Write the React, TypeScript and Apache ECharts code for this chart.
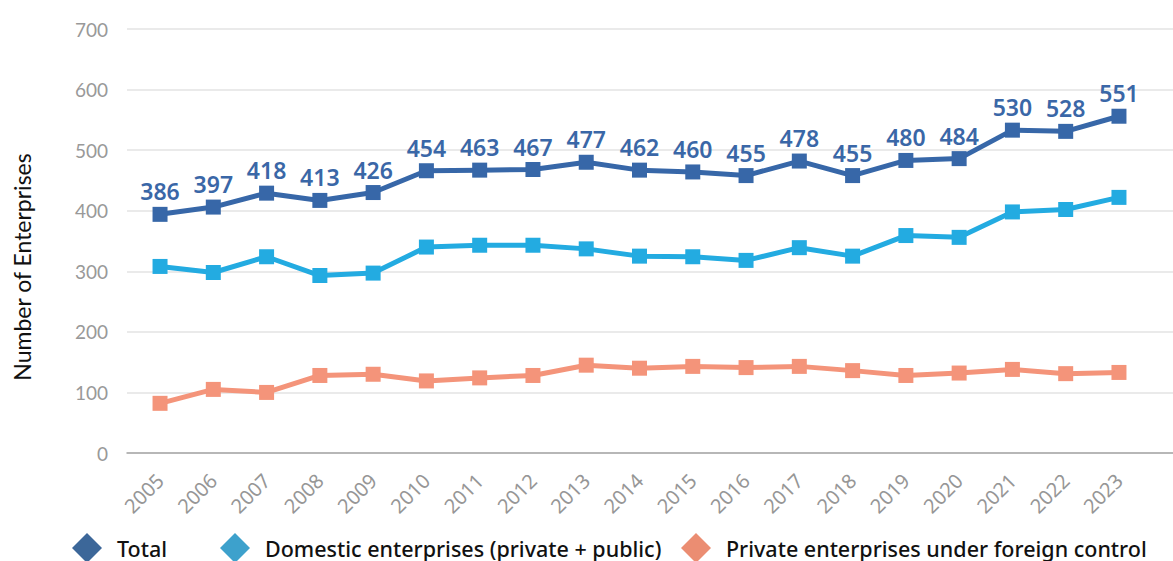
import React, { useEffect, useRef } from "react";
import * as echarts from "echarts";

const years = ["2005","2006","2007","2008","2009","2010","2011","2012","2013","2014","2015","2016","2017","2018","2019","2020","2021","2022","2023"];
const totalValues = [394, 406, 429, 417, 430, 466, 467, 468, 480, 467, 464, 458, 482, 458, 483, 486, 533, 531, 556];
const totalLabels = [386, 397, 418, 413, 426, 454, 463, 467, 477, 462, 460, 455, 478, 455, 480, 484, 530, 528, 551];
const domesticValues = [308, 298, 324, 293, 297, 340, 343, 343, 337, 325, 324, 318, 339, 325, 359, 356, 398, 402, 422];
const foreignValues = [82, 105, 100, 128, 130, 119, 124, 128, 145, 140, 143, 141, 143, 136, 128, 132, 138, 131, 133];
const yTicks = { min: 0, max: 700, interval: 100 };
const seriesNames = ["Total", "Domestic enterprises (private + public)", "Private enterprises under foreign control"];

const lineColors = ["#3767A8", "#23ABE1", "#F4947A"];
const legendColors = ["#3C6799", "#3DA1CC", "#EB8D72"];

export default function App() {
  const ref = useRef<HTMLDivElement>(null);
  useEffect(() => {
    if (!ref.current) return;
    const chart = echarts.init(ref.current, undefined, { renderer: "svg" });
    const legendBase = (i: number, left: number) => ({
      left,
      top: 533,
      padding: 0,
      orient: "horizontal",
      itemWidth: 30,
      itemHeight: 30,
      icon: "diamond",
      selectedMode: false,
      data: [{ name: seriesNames[i], itemStyle: { color: legendColors[i] } }],
      textStyle: {
        fontFamily: "Noto Sans",
        fontSize: 21.5,
        fontWeight: 500,
        color: "#111",
        lineHeight: 24,
        padding: [0, 0, 0, 10],
      },
    });
    chart.setOption({
      animation: false,
      grid: [
        { left: 127, right: 0, top: 29, bottom: 108 },
        { left: 133.4, right: 27.4, top: 29, bottom: 108 },
      ],
      xAxis: [
        {
          gridIndex: 0,
          type: "category",
          data: years,
          axisLine: { show: true, lineStyle: { color: "#A6A6A6", width: 1.5 } },
          axisTick: { show: false },
          axisLabel: { show: false },
          splitLine: { show: false },
        },
        {
          gridIndex: 1,
          type: "category",
          data: years,
          boundaryGap: true,
          axisLine: { show: false },
          axisTick: { show: false },
          axisLabel: {
            rotate: 45,
            margin: 24,
            color: "#969696",
            fontFamily: "Noto Sans",
            fontSize: 20,
            interval: 0,
          },
        },
      ],
      yAxis: [
        {
          gridIndex: 0,
          type: "value",
          min: yTicks.min,
          max: yTicks.max,
          interval: yTicks.interval,
          axisLine: { show: false },
          axisTick: { show: false },
          axisLabel: { color: "#999999", fontFamily: "Lato", fontSize: 19, margin: 19 },
          splitLine: { lineStyle: { color: "#E3E3E3", width: 1.5 } },
        },
        {
          gridIndex: 1,
          type: "value",
          min: yTicks.min,
          max: yTicks.max,
          interval: yTicks.interval,
          show: false,
        },
      ],
      legend: [legendBase(0, 72), legendBase(1, 220), legendBase(2, 681)],
      graphic: [
        {
          type: "text",
          x: 22,
          y: 267,
          rotation: Math.PI / 2,
          style: {
            text: "Number of Enterprises",
            fontFamily: "Lato",
            fontSize: 23,
            fill: "#111",
            align: "center",
            verticalAlign: "middle",
          },
        },
      ],
      series: [
        {
          name: seriesNames[0],
          type: "line",
          xAxisIndex: 1,
          yAxisIndex: 1,
          data: totalValues,
          symbol: "rect",
          symbolSize: 15,
          lineStyle: { color: lineColors[0], width: 5 },
          itemStyle: { color: lineColors[0] },
          label: {
            show: true,
            position: "top",
            distance: 4,
            color: "#3A67A7",
            fontFamily: "Noto Sans",
            fontSize: 23,
            fontWeight: 600,
            formatter: (p: any) => String(totalLabels[p.dataIndex]),
          },
          z: 4,
        },
        {
          name: seriesNames[1],
          type: "line",
          xAxisIndex: 1,
          yAxisIndex: 1,
          data: domesticValues,
          symbol: "rect",
          symbolSize: 15,
          lineStyle: { color: lineColors[1], width: 5 },
          itemStyle: { color: lineColors[1] },
          z: 3,
        },
        {
          name: seriesNames[2],
          type: "line",
          xAxisIndex: 1,
          yAxisIndex: 1,
          data: foreignValues,
          symbol: "rect",
          symbolSize: 15,
          lineStyle: { color: lineColors[2], width: 5 },
          itemStyle: { color: lineColors[2] },
          z: 2,
        },
      ],
    });
    return () => chart.dispose();
  }, []);
  return <div ref={ref} style={{ width: 1173, height: 561, position: "absolute", left: 0, top: 0 }} />;
}
